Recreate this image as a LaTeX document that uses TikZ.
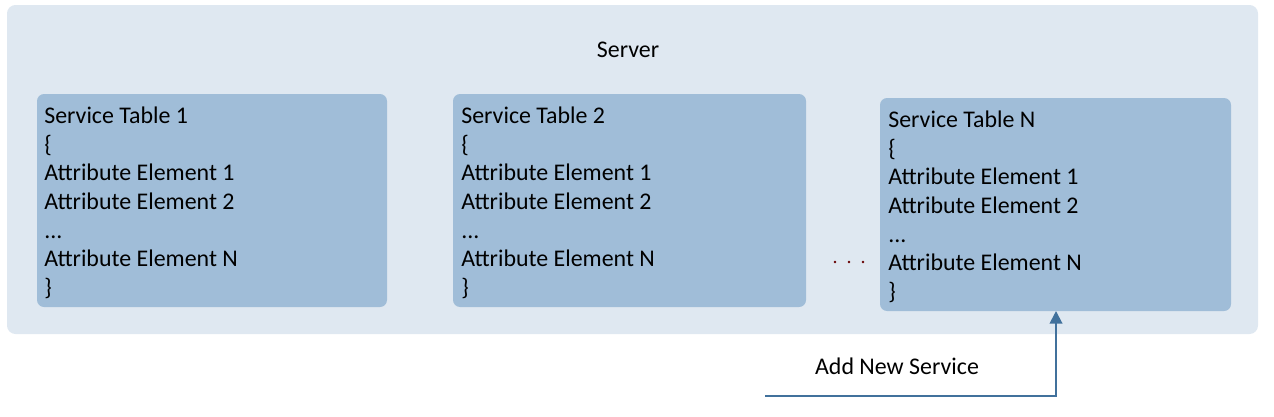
\documentclass[tikz,border=0pt]{standalone}
\usepackage{fontspec}
\setmainfont{Carlito}
\usetikzlibrary{arrows.meta}
\definecolor{serverbg}{HTML}{DFE8F1}
\definecolor{tablebg}{HTML}{A0BDD8}
\definecolor{arrowblue}{HTML}{41719C}
\tikzset{
    tablebox/.style={fill=tablebg, rounded corners=5pt},
    tabletext/.style={anchor=north west, align=left, inner sep=0pt, font=\fontsize{17}{20.3}\selectfont},
}
\begin{document}
\begin{tikzpicture}[x=0.025cm, y=-0.025cm]
    \useasboundingbox (0, 0) rectangle (1274, 416);
    \fill[serverbg, rounded corners=6pt] (7, 5) rectangle (1258, 334);
    \node[font=\fontsize{17}{20}\selectfont] (server) at (628, 50) {Server};

    \fill[tablebox] (37, 94) rectangle (387, 307);
    \fill[tablebox] (453, 94) rectangle (806, 307);
    \fill[tablebox] (880, 98) rectangle (1231, 311);
    \coordinate (t3) at (1056, 311);

    \node[tabletext] (table1) at (44, 107) {Service Table 1\\\{\\Attribute Element 1\\Attribute Element 2\\...\\Attribute Element N\\\}};
    \node[tabletext] (table2) at (461, 107) {Service Table 2\\\{\\Attribute Element 1\\Attribute Element 2\\...\\Attribute Element N\\\}};
    \node[tabletext] (table3) at (888, 111) {Service Table N\\\{\\Attribute Element 1\\Attribute Element 2\\...\\Attribute Element N\\\}};

    \foreach \x in {835, 849, 863}
        \fill[red!40!black] (\x, 262) circle (1.3);

    \node[font=\fontsize{17}{20}\selectfont] (label) at (897, 366) {Add New Service};
    \coordinate (start) at (765, 396);
    \draw[arrowblue, line width=1.4pt, -{Triangle[length=9pt, width=9pt]}] (start) -- (1056, 396) -- (t3);
\end{tikzpicture}
\end{document}
